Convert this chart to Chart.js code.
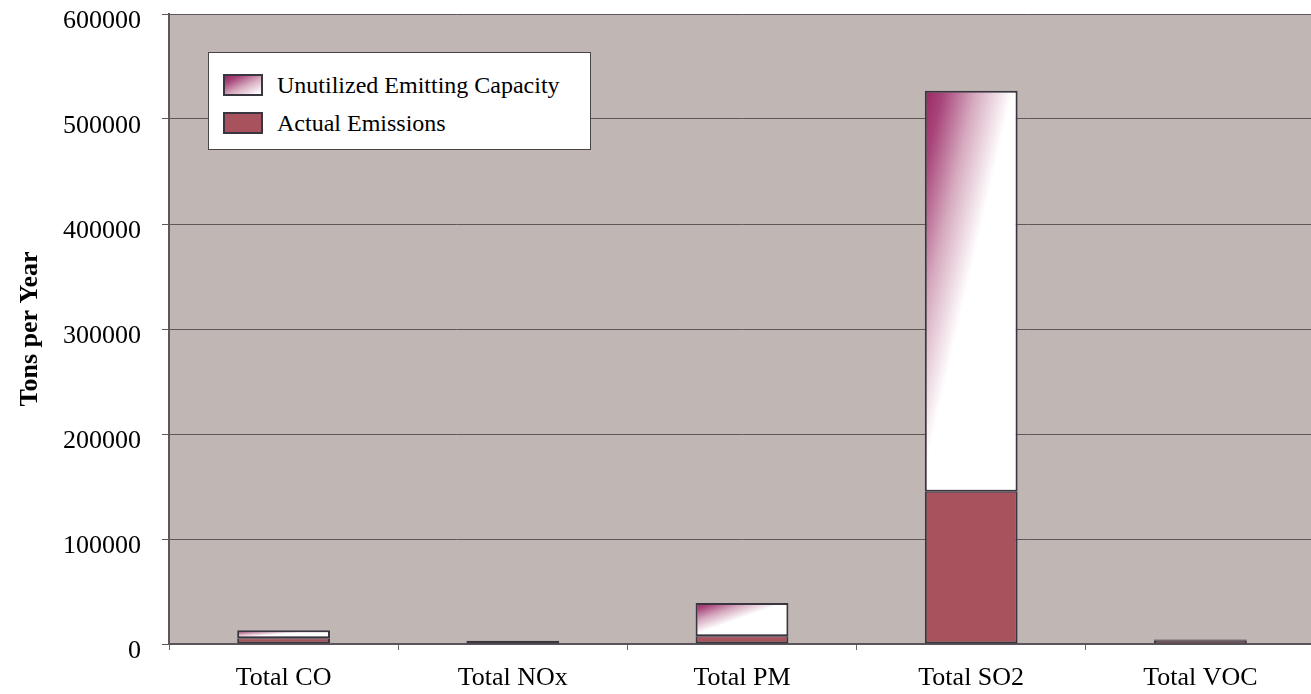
<!DOCTYPE html>
<html><head><meta charset="utf-8">
<script src="https://cdn.jsdelivr.net/npm/chart.js@4/dist/chart.umd.min.js"></script>
<style>
html,body{margin:0;padding:0;background:#fff;overflow:hidden;}
#wrap{position:relative;width:1311px;height:694px;overflow:hidden;}
#c{display:block;}
#legend{position:absolute;left:208px;top:52px;width:381px;height:96px;background:#fff;border:1px solid #4a4446;font-family:"Liberation Serif","Times New Roman",serif;font-size:24px;color:#000;}
.item{position:absolute;left:14px;display:flex;align-items:center;height:24px;}
.sw{width:36px;height:18px;border:2px solid #3a3640;margin-right:14px;box-sizing:content-box;}
</style></head>
<body><div id="wrap"><canvas id="c" width="1315" height="694" style="width:1315px;height:694px"></canvas>
<div id="legend">
<div class="item" style="top:20px"><div class="sw" style="background:linear-gradient(to bottom right,#9A2862 0%,#A8457A 20%,#D6AABF 55%,#ffffff 95%,#ffffff 100%)"></div><span>Unutilized Emitting Capacity</span></div>
<div class="item" style="top:58px"><div class="sw" style="background:#A8525E"></div><span>Actual Emissions</span></div>
</div></div>
<script>
const categories = ['Total CO', 'Total NOx', 'Total PM', 'Total SO2', 'Total VOC'];
const actualEmissions = [5500, 2000, 7500, 145000, 3000];
const unutilizedCapacity = [7500, 1000, 31500, 382000, 1300];
const seriesNames = ['Actual Emissions', 'Unutilized Emitting Capacity'];
const yMin = 0, yMax = 600000, yStep = 100000;

const FONT = '"Liberation Serif", "Times New Roman", serif';

const areaBg = {
  id: 'areaBg',
  beforeDraw(chart) {
    const {ctx, chartArea: a} = chart;
    ctx.save();
    ctx.fillStyle = '#C0B6B3';
    ctx.fillRect(a.left, a.top, a.right - a.left, a.bottom - a.top);
    ctx.restore();
  }
};

const gradPlugin = {
  id: 'grad',
  beforeDatasetsDraw(chart) {
    const ctx = chart.ctx;
    const meta = chart.getDatasetMeta(1);
    meta.data.forEach(el => {
      const w = Math.max(el.width, 1);
      const h = Math.max(Math.abs(el.base - el.y), 1);
      const x0 = el.x - w / 2, y0 = Math.min(el.y, el.base);
      const s = 1 / (w * w) + 1 / (h * h);
      const g = ctx.createLinearGradient(x0, y0, x0 + (1 / w) / s, y0 + (1 / h) / s);
      g.addColorStop(0, '#9A2862');
      g.addColorStop(0.2, '#A8457A');
      g.addColorStop(0.55, '#D6AABF');
      g.addColorStop(0.95, '#FFFFFF');
      g.addColorStop(1, '#FFFFFF');
      el.options = Object.assign({}, el.options, {backgroundColor: g});
    });
  }
};

new Chart(document.getElementById('c'), {
  type: 'bar',
  data: {
    labels: categories,
    datasets: [
      {label: seriesNames[0], data: actualEmissions, backgroundColor: '#A8525E', borderColor: '#3a3640', borderWidth: {top: 1, left: 2, right: 2, bottom: 2}, borderSkipped: false},
      {label: seriesNames[1], data: unutilizedCapacity, backgroundColor: '#FFFFFF', borderColor: '#3a3640', borderWidth: {top: 2, left: 2, right: 2, bottom: 2}, borderSkipped: false}
    ]
  },
  options: {
    responsive: false,
    animation: false,
    devicePixelRatio: 1,
    layout: {padding: {top: 14, left: 0, right: 0, bottom: 0}},
    datasets: {bar: {barPercentage: 0.405, categoryPercentage: 1}},
    plugins: {legend: {display: false}, tooltip: {enabled: false}},
    scales: {
      x: {
        stacked: true,
        offset: true,
        grid: {offset: true, drawOnChartArea: false, drawTicks: true, tickLength: 6, color: '#6b6466'},
        border: {color: '#5a5458', width: 2},
        ticks: {font: {family: FONT, size: 26}, color: '#000', padding: 13, maxRotation: 0},
        afterFit(s) { s.height = 50; s.paddingLeft = 0; s.paddingRight = 0; }
      },
      y: {
        stacked: true,
        min: yMin, max: yMax,
        grid: {color: '#5e585a', lineWidth: 1, tickLength: 7},
        border: {color: '#5e5759', width: 2},
        ticks: {stepSize: yStep, font: {family: FONT, size: 26}, color: '#000', padding: 21, labelOffset: 7, callback: v => String(v)},
        title: {display: true, text: 'Tons per Year', color: '#000', font: {family: FONT, size: 26, weight: 'bold'}, padding: {top: 15, bottom: 10}},
        afterFit(s) { s.width = 169; s.paddingTop = 0; s.paddingBottom = 0; }
      }
    }
  },
  plugins: [areaBg, gradPlugin]
});
</script>
</body></html>
